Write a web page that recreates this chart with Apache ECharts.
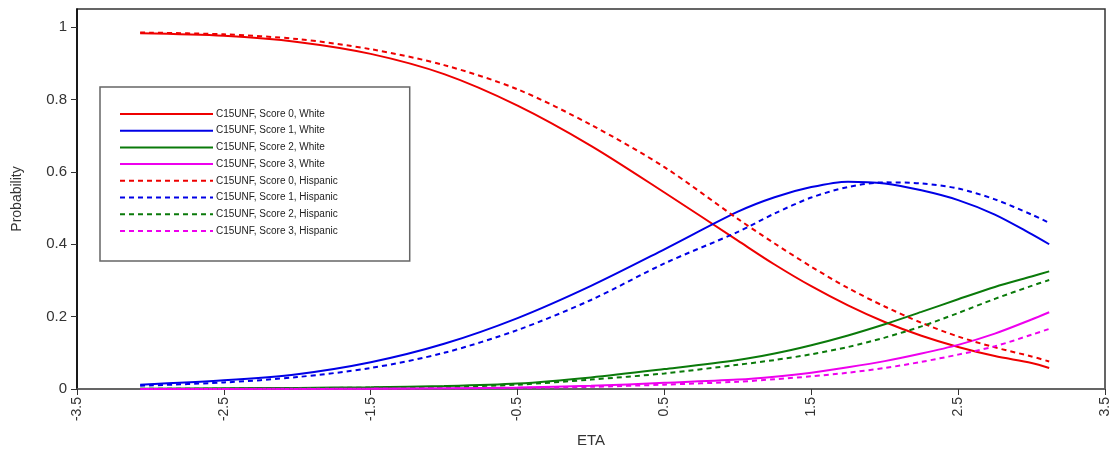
<!DOCTYPE html>
<html>
<head>
<meta charset="utf-8">
<script src="https://cdn.jsdelivr.net/npm/echarts@6/dist/echarts.min.js"></script>
<style>
html,body{margin:0;padding:0;background:#fff;}
#c{width:1112px;height:455px;}
</style>
</head>
<body>
<div id="c"></div>
<script>
// ETA grid points (x values)
const eta = [-3.07, -2.5, -2.0, -1.5, -1.0, -0.5, 0.0, 0.5, 1.0, 1.25, 1.5, 1.75, 2.0, 2.25, 2.5, 2.75, 3.0, 3.12];

// White
const score0White = [0.983, 0.976, 0.959, 0.926, 0.870, 0.783, 0.672, 0.543, 0.410, 0.344, 0.284, 0.231, 0.185, 0.147, 0.116, 0.091, 0.072, 0.058];
const score1White = [0.012, 0.024, 0.041, 0.074, 0.125, 0.196, 0.285, 0.386, 0.490, 0.530, 0.558, 0.573, 0.568, 0.549, 0.522, 0.482, 0.428, 0.400];
const score2White = [0.001, 0.002, 0.003, 0.005, 0.008, 0.015, 0.032, 0.055, 0.080, 0.098, 0.121, 0.148, 0.179, 0.213, 0.248, 0.282, 0.311, 0.325];
const score3White = [0.000, 0.000, 0.001, 0.001, 0.002, 0.004, 0.009, 0.017, 0.026, 0.034, 0.045, 0.060, 0.077, 0.098, 0.122, 0.153, 0.192, 0.212];

// Hispanic
const score0Hisp = [0.985, 0.980, 0.967, 0.939, 0.895, 0.828, 0.730, 0.613, 0.470, 0.402, 0.338, 0.279, 0.228, 0.183, 0.145, 0.115, 0.090, 0.076];
const score1Hisp = [0.009, 0.018, 0.033, 0.058, 0.100, 0.163, 0.246, 0.347, 0.434, 0.485, 0.529, 0.558, 0.571, 0.568, 0.554, 0.524, 0.482, 0.459];
const score2Hisp = [0.001, 0.001, 0.002, 0.004, 0.006, 0.012, 0.026, 0.043, 0.067, 0.080, 0.096, 0.116, 0.142, 0.173, 0.210, 0.249, 0.285, 0.301];
const score3Hisp = [0.000, 0.000, 0.000, 0.001, 0.002, 0.003, 0.006, 0.012, 0.020, 0.027, 0.035, 0.045, 0.058, 0.075, 0.095, 0.118, 0.150, 0.166];

const xTicks = [-3.5, -2.5, -1.5, -0.5, 0.5, 1.5, 2.5, 3.5];
const yTicks = [0, 0.2, 0.4, 0.6, 0.8, 1];

const seriesDefs = [
  ['C15UNF, Score 0, White', score0White, '#ee0000', 'solid'],
  ['C15UNF, Score 1, White', score1White, '#0000e6', 'solid'],
  ['C15UNF, Score 2, White', score2White, '#0a7a0a', 'solid'],
  ['C15UNF, Score 3, White', score3White, '#ee00ee', 'solid'],
  ['C15UNF, Score 0, Hispanic', score0Hisp, '#ee0000', 'dashed'],
  ['C15UNF, Score 1, Hispanic', score1Hisp, '#0000e6', 'dashed'],
  ['C15UNF, Score 2, Hispanic', score2Hisp, '#0a7a0a', 'dashed'],
  ['C15UNF, Score 3, Hispanic', score3Hisp, '#ee00ee', 'dashed']
];

const chart = echarts.init(document.getElementById('c'), null, {renderer: 'canvas'});
const font = 'Arial, "Liberation Sans", sans-serif';

chart.setOption({
  animation: false,
  backgroundColor: '#fff',
  textStyle: {fontFamily: font},
  grid: {left: 77, right: 1, top: 9, bottom: 66, show: true, borderColor: '#333', borderWidth: 1.5},
  legend: {
    orient: 'vertical',
    left: 100, top: 87,
    data: seriesDefs.map(d => d[0]),
    itemWidth: 93, itemHeight: 10, itemGap: 6.7,
    padding: [22, 72, 25, 19],
    borderColor: '#666', borderWidth: 1.5, backgroundColor: '#fff',
    itemStyle: {opacity: 0},
    textStyle: {fontSize: 10, color: '#222', fontFamily: font, padding: [0,0,0,-2]},
    selectedMode: false
  },
  xAxis: {
    type: 'value', min: -3.5, max: 3.5, interval: 1,
    name: 'ETA', nameLocation: 'middle', nameGap: 44,
    nameTextStyle: {fontSize: 15, color: '#333'},
    axisLine: {onZero: false, lineStyle: {color: '#666', width: 1.5}},
    axisTick: {show: true, length: 6, lineStyle: {color: '#333'}, customValues: xTicks},
    axisLabel: {rotate: 90, fontSize: 14, color: '#333', margin: 8, customValues: xTicks,
      formatter: v => String(v)},
    splitLine: {show: false}
  },
  yAxis: {
    type: 'value', min: 0, max: 1.05, interval: 0.2,
    name: 'Probability', nameLocation: 'middle', nameGap: 53,
    nameTextStyle: {fontSize: 14, color: '#333'},
    axisLine: {show: true, onZero: false, lineStyle: {color: '#000', width: 1.5}},
    axisTick: {show: true, length: 6, lineStyle: {color: '#333'}, customValues: yTicks},
    axisLabel: {fontSize: 15, color: '#333', margin: 10, customValues: yTicks,
      formatter: v => String(+v.toFixed(1))},
    splitLine: {show: false}
  },
  series: seriesDefs.map(d => ({
    name: d[0], type: 'line', smooth: 0.3, symbol: 'none',
    data: eta.map((x, i) => [x, d[1][i]]),
    lineStyle: {color: d[2], width: 2, type: d[3] === 'dashed' ? [5, 4] : 'solid'},
    itemStyle: {color: d[2]}
  }))
});
</script>
</body>
</html>
